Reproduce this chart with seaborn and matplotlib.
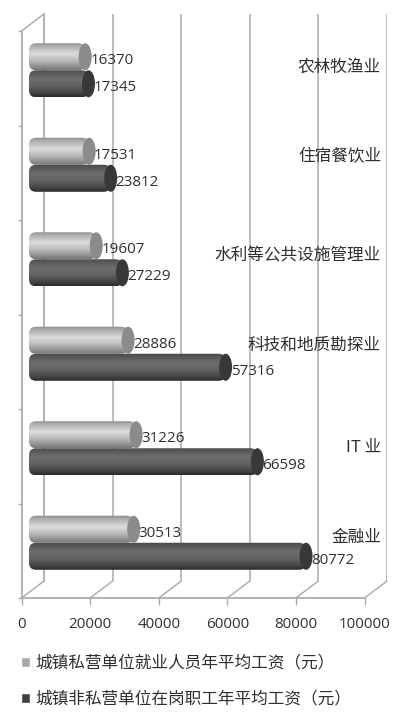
import numpy as np
import pandas as pd
import seaborn as sns
import matplotlib
matplotlib.use("Agg")
import matplotlib.pyplot as plt
from matplotlib.patches import ConnectionPatch, Ellipse, FancyBboxPatch
from matplotlib.colors import LinearSegmentedColormap

categories = ["农林牧渔业", "住宿餐饮业", "水利等公共设施管理业", "科技和地质勘探业", "IT 业", "金融业"]
private_pay = [16370, 17531, 19607, 28886, 31226, 30513]
nonprivate_pay = [17345, 23812, 27229, 57316, 66598, 80772]
series_names = ["城镇私营单位就业人员年平均工资（元）", "城镇非私营单位在岗职工年平均工资（元）"]
x_ticks = [0, 20000, 40000, 60000, 80000, 100000]

# style only
label_nudge_px = [3, 8, 3, 8, 1, 5]
W, H = 400, 726
LINE = "#a9a9a9"
TEXT = "#2f2f2f"
CJK = ["Noto Sans CJK SC", "DejaVu Sans"]
NUM = ["Open Sans", "DejaVu Sans"]

sns.set_theme(style="white")
plt.rcParams["font.family"] = CJK

fig = plt.figure(figsize=(W / 100, H / 100), dpi=100, facecolor="white")


def rect(l, t, r, b):
    return [l / W, 1 - b / H, (r - l) / W, (b - t) / H]


# back wall, bar plane (mid depth), front plane
back = fig.add_axes(rect(44, 14, 387, 581), zorder=1)
mid = fig.add_axes(rect(29, 23, 372, 590), zorder=2)
front = fig.add_axes(rect(21.5, 31, 364.5, 598), zorder=3)

for a in (back, front):
    a.set_xlim(x_ticks[0], x_ticks[-1])
    a.set_ylim(6, 0)
    a.patch.set_alpha(0)
    sns.despine(ax=a, top=True, right=True, left=False, bottom=False)

back.spines["bottom"].set_visible(False)
back.spines["left"].set_color(LINE)
back.set_xticks(x_ticks)
back.set_yticks([])
back.tick_params(bottom=False, labelbottom=False)
for v in x_ticks[1:]:
    back.axvline(v, color=LINE, lw=1.1)

front.spines["left"].set_color(LINE)
front.spines["bottom"].set_color(LINE)
front.set_xticks(x_ticks)
front.set_yticks(range(7))
front.set_yticklabels([])
front.tick_params(axis="x", length=5, width=1, color=LINE, pad=9, labelsize=10.9,
                  labelcolor=TEXT, bottom=True)
front.tick_params(axis="y", length=3, width=1, color=LINE, left=True)
for t in front.get_xticklabels():
    t.set_family(NUM)

# floor diagonals and the top-left edge
for v in x_ticks:
    fig.add_artist(ConnectionPatch((v, 0), (v, 0), coordsA=front.get_xaxis_transform(),
                                   coordsB=back.get_xaxis_transform(), color=LINE, lw=1))
fig.add_artist(ConnectionPatch((0, 1), (0, 1), coordsA=front.get_xaxis_transform(),
                               coordsB=back.get_xaxis_transform(), color=LINE, lw=1))

# bars
df = pd.DataFrame({
    "industry": categories * 2,
    "pay": private_pay + nonprivate_pay,
    "series": [series_names[0]] * 6 + [series_names[1]] * 6,
})
palette = {series_names[0]: "#a8a8a8", series_names[1]: "#3f3f3f"}
sns.barplot(data=df, y="industry", x="pay", hue="series", hue_order=series_names,
            order=categories, palette=palette, width=0.572, gap=0, ax=mid,
            saturation=1, errorbar=None)
mid.set_xlim(x_ticks[0], x_ticks[-1])
mid.set_ylim(5.5, -0.5)
mid.patch.set_alpha(0)
mid.set_xlabel("")
mid.set_ylabel("")
mid.set_xticks([])
mid.set_yticks([])
sns.despine(ax=mid, left=True, bottom=True)

light = LinearSegmentedColormap.from_list("l", [(0, "#8c8c8c"), (.15, "#b0b0b0"), (.42, "#dcdcdc"),
                                                (.7, "#b4b4b4"), (1, "#777777")])
dark = LinearSegmentedColormap.from_list("d", [(0, "#4a4a4a"), (.35, "#6e6e6e"), (.6, "#626262"),
                                               (.85, "#454545"), (1, "#2a2a2a")])
ramp = np.linspace(0, 1, 64).reshape(-1, 1)
x_per_px = (x_ticks[-1] - x_ticks[0]) / 343
y_per_px = 6 / 567
bars = [p for p in mid.patches if p.get_width() > 0]
for i, p in enumerate(bars):
    x, y, w, h = p.get_x(), p.get_y(), p.get_width(), p.get_height()
    p.set_visible(False)
    is_light = i < len(categories)
    cmap = light if is_light else dark
    z = 5 + (10 - i if is_light else 0)
    r = 7 * x_per_px
    clip = FancyBboxPatch((x, y), w, h, boxstyle=f"round,pad=0,rounding_size={r}",
                          mutation_aspect=y_per_px / x_per_px, transform=mid.transData,
                          fc="none", ec="none")
    mid.add_patch(clip)
    im = mid.imshow(ramp, cmap=cmap, extent=(x, x + w, y + h, y), aspect="auto", zorder=z,
                    vmin=0, vmax=1, interpolation="bilinear")
    im.set_clip_path(clip)
    mid.add_patch(Ellipse((x + w, y + h / 2), 13 * x_per_px, h,
                          fc="#8b8b8b" if is_light else "#383838", ec="none", zorder=z + 0.5))
    val = int(round(w))
    mid.annotate(str(val), (x + w, y + h / 2), xytext=(5, -4), textcoords="offset pixels",
                 ha="left", va="center", fontsize=10.9, color=TEXT, family=NUM, zorder=30)

mid.set_xlim(x_ticks[0], x_ticks[-1])
mid.set_ylim(5.5, -0.5)

# category labels inside the chart
for i, name in enumerate(categories):
    mid.annotate(name, (x_ticks[-1], i), xytext=(9, label_nudge_px[i] * 1.0), textcoords="offset pixels",
                 ha="right", va="center", fontsize=12, color=TEXT, zorder=30, annotation_clip=False)

sns.move_legend(mid, loc="upper left", bbox_to_anchor=(14 / W, 1 - 648 / H),
                bbox_transform=fig.transFigure, frameon=False, title=None, fontsize=12,
                handlelength=0.55, handleheight=0.55, handletextpad=0.35, labelspacing=1.15,
                borderpad=0.4, borderaxespad=0)
for t in mid.get_legend().get_texts():
    t.set_color(TEXT)

fig.savefig("out.png", dpi=100, facecolor="white")
